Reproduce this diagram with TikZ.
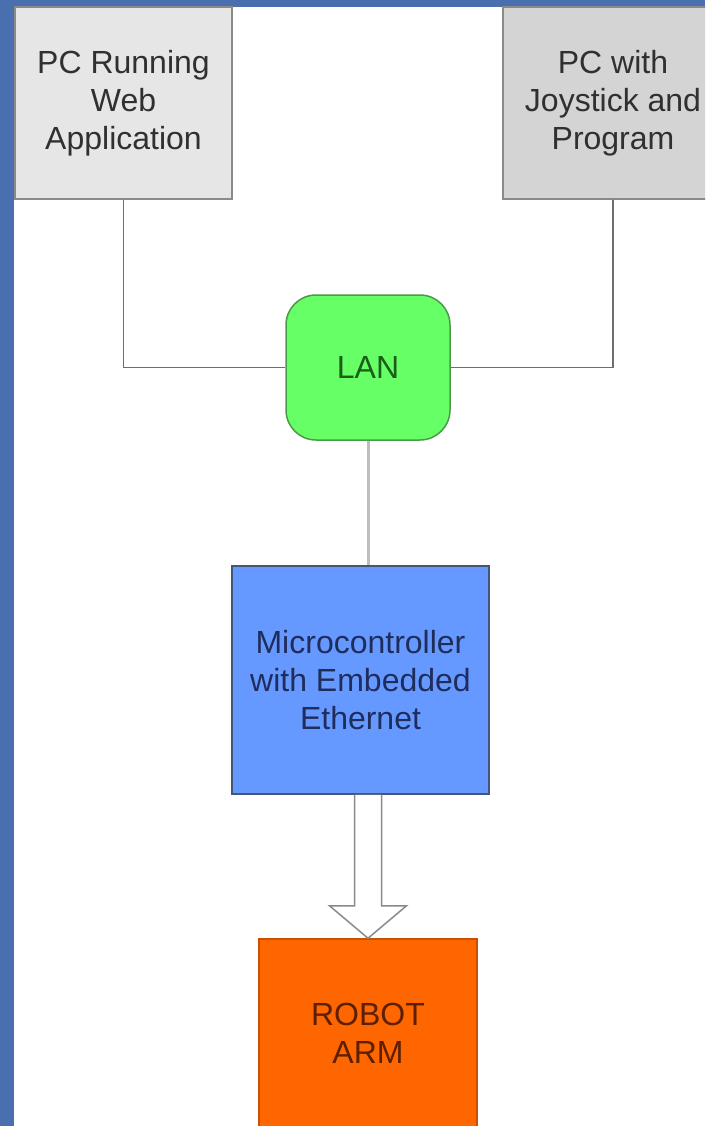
\documentclass[tikz,border=0pt]{standalone}
\usepackage{fontspec}
\setmainfont{Liberation Sans}
\usetikzlibrary{calc}
\definecolor{frameblue}{HTML}{4A6FAE}
\definecolor{webfill}{HTML}{E6E6E6}
\definecolor{joyfill}{HTML}{D4D4D4}
\definecolor{boxline}{HTML}{8A8A8A}
\definecolor{lanfill}{HTML}{66FF66}
\definecolor{lanline}{HTML}{4A9A4A}
\definecolor{lantext}{HTML}{1A5E1A}
\definecolor{mcufill}{HTML}{6699FF}
\definecolor{mculine}{HTML}{44557A}
\definecolor{mcutext}{HTML}{1F2D5C}
\definecolor{robfill}{HTML}{FF6600}
\definecolor{robline}{HTML}{C85000}
\definecolor{robtext}{HTML}{5C1F00}
\definecolor{wiredark}{HTML}{6E6E6E}
\definecolor{wirelight}{HTML}{BDBDBD}
\definecolor{txtgray}{HTML}{303030}
\begin{document}
\begin{tikzpicture}[x=1pt,y=-1pt,
  blockbox/.style={draw, line width=1.5pt, inner sep=0pt, align=center,
    font=\fontsize{32}{38}\selectfont},
  wire/.style={draw=wiredark, line width=1.5pt},
  lightwire/.style={draw=wirelight, line width=3pt},
  hollowarrow/.style={draw=boxline, fill=white, line width=1.5pt, line join=miter}]
\useasboundingbox (0,0) rectangle (705,1126);
\clip (0,0) rectangle (705,1126);
\fill[frameblue] (0,0) rectangle (705,1126);
\fill[white] (14,7) rectangle (705,1126);

\node[blockbox, draw=boxline, fill=webfill, text=txtgray,
  minimum width=217pt, minimum height=192pt] (web) at (123.5,103)
  {PC Running\\Web\\Application};
\node[blockbox, draw=boxline, fill=joyfill, text=txtgray,
  minimum width=220pt, minimum height=192pt] (joy) at (613,103)
  {PC with\\Joystick and\\Program};
\node[blockbox, draw=lanline, fill=lanfill, text=lantext, rounded corners=30pt,
  minimum width=164pt, minimum height=145pt] (lan) at (368,367.5) {LAN};
\node[blockbox, draw=mculine, fill=mcufill, text=mcutext,
  minimum width=257pt, minimum height=228pt] (mcu) at (360.5,680)
  {Microcontroller\\with Embedded\\Ethernet};
\node[blockbox, draw=robline, fill=robfill, text=robtext,
  minimum width=218pt, minimum height=188pt] (robot) at (368,1033)
  {ROBOT\\ARM};

\draw[wire] (web.south) |- (lan.west);
\draw[wire] (joy.south) |- (lan.east);
\draw[lightwire] (lan.south) -- (lan.south |- mcu.north);

\coordinate (a0) at (robot.north |- mcu.south);
\draw[hollowarrow] ($(a0)+(-13.5,0)$) -- ($(a0)+(-13.5,111)$) -- ($(a0)+(-38.5,111)$)
  -- (robot.north) -- ($(a0)+(38.5,111)$) -- ($(a0)+(13.5,111)$) -- ($(a0)+(13.5,0)$);
\end{tikzpicture}
\end{document}
